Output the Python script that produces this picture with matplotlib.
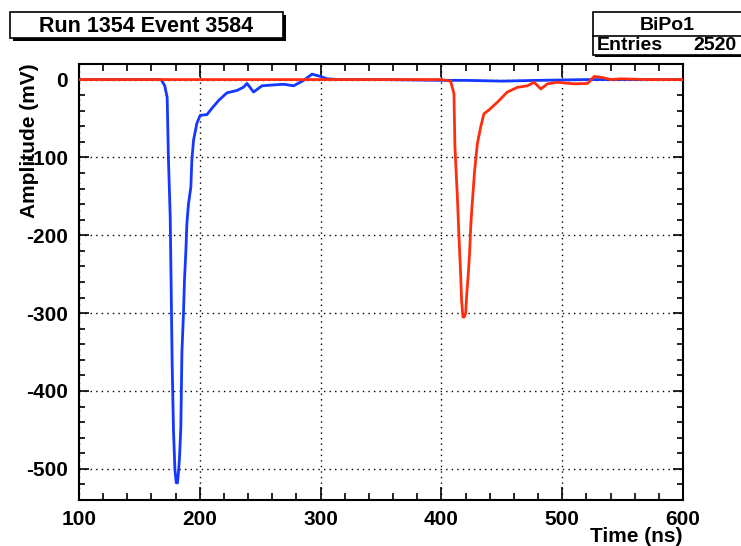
import numpy as np
import matplotlib
matplotlib.use("Agg")
import matplotlib.pyplot as plt
from matplotlib.patches import Rectangle
from matplotlib.ticker import MultipleLocator

# waveform samples (time in ns, amplitude in mV)
blue_t = [100, 120, 140, 160, 168, 171, 173, 174, 175.5, 176.3, 177.1, 178.2, 179.4, 180.5,
          181.5, 182.3, 183.2, 184.3, 185.2, 186.5, 187.3, 188.5, 189.3, 190.6, 192.6, 193.4,
          194.8, 197.6, 200.3, 205.9, 210.0, 215.5, 222.5, 230.8, 236.0, 239.1, 244.5, 251.5,
          260, 269.4, 277.7, 286.0, 292.9, 299.8, 305.4, 315, 350, 400, 420, 450, 480, 520,
          560, 600]
blue_v = [0, 0, 0, 0, 0, -8, -23, -100, -176, -268, -364, -450, -501, -518,
          -518, -505, -486, -447, -350, -300, -258, -219, -185, -160, -138, -104,
          -78, -56, -46, -45, -37, -27, -17, -14, -10, -5, -16, -8,
          -7, -6, -8, -1, 7, 4, 1, 0, 0, -1, -1, -2, -1, 0,
          0, 0]

red_t = [100, 150, 200, 250, 300, 350, 400, 407.6, 410.4, 411.2, 413.2, 414.5, 415.9, 416.7,
         417.8, 418.8, 420.1, 420.9, 422.3, 423.4, 424.2, 425.3, 426.4, 427.5, 429.8, 432.5,
         435.2, 439.4, 446.4, 454.6, 462.9, 471.2, 476.7, 482.3, 487.8, 496.1, 509.9, 521.0,
         526.5, 532.0, 540.3, 548.6, 570, 600]
red_v = [0, 0, 0, 0, 0, 0, 0, -2, -18, -87, -150, -200, -249, -283,
         -305, -305, -300, -277, -249, -221, -191, -164, -140, -117, -82, -61,
         -44, -39, -29, -16, -10, -8, -3.5, -12, -5.5, -3.5, -5.5, -5,
         4, 3, 0, 1, 0, 0]

title_text = "Run 1354 Event 3584"
stats_name = "BiPo1"
stats_entries = 2520

W, H = 741, 546
plt.rcParams['font.family'] = ['Liberation Sans', 'DejaVu Sans']
plt.rcParams['font.weight'] = 'bold'
plt.rcParams['axes.unicode_minus'] = False

fig = plt.figure(figsize=(W / 100, H / 100), dpi=100)
fig.patch.set_facecolor('white')

# frame from x=79..683 px, y=64..500 px
ax = fig.add_axes([79 / W, 1 - 500 / H, (683 - 79) / W, (500 - 64) / H])

ax.plot(blue_t, blue_v, color='#1438ff', lw=2.0, zorder=3)
ax.plot(red_t, red_v, color='#ff2d0f', lw=2.0, zorder=3)

ax.set_xlim(100, 600)
ax.set_ylim(-540, 20)
ax.xaxis.set_major_locator(MultipleLocator(100))
ax.xaxis.set_minor_locator(MultipleLocator(20))
ax.yaxis.set_major_locator(MultipleLocator(100))
ax.yaxis.set_minor_locator(MultipleLocator(20))

ax.grid(True, which='major', color='black', linestyle=(0, (1, 3)), lw=1.0)
ax.tick_params(axis='both', which='both', direction='in', top=True, right=True,
               labelsize=15, width=1.2)
ax.tick_params(axis='x', which='major', length=9.5, pad=7)
ax.tick_params(axis='x', which='minor', length=5)
ax.tick_params(axis='y', which='major', length=7.5, pad=8)
ax.tick_params(axis='y', which='minor', length=4.5)
for lab in ax.get_xticklabels() + ax.get_yticklabels():
    lab.set_fontweight('bold')
for s in ax.spines.values():
    s.set_linewidth(1.5)

# axis titles, ROOT style (right / top aligned)
fig.text(683 / W, 1 - 537 / H, "Time (ns)", ha='right', va='center',
         fontsize=15, fontweight='bold')
fig.text(30 / W, 1 - 63 / H, "Amplitude (mV)", rotation=90, ha='center', va='top',
         fontsize=15, fontweight='bold')

# title box with shadow
tx0, tx1, ty0, ty1 = 10, 283, 11.7, 38.3
fig.patches.append(Rectangle(((tx0 + 3) / W, 1 - (ty1 + 3) / H), (tx1 - tx0) / W, (ty1 - ty0) / H,
                             transform=fig.transFigure, facecolor='black', edgecolor='none'))
fig.patches.append(Rectangle((tx0 / W, 1 - ty1 / H), (tx1 - tx0) / W, (ty1 - ty0) / H,
                             transform=fig.transFigure, facecolor='white', edgecolor='black', lw=1.2))
fig.text((tx0 + tx1) / 2 / W, 1 - 26 / H, title_text, ha='center', va='center',
         fontsize=15.5, fontweight='bold')

# stats box (runs off the right edge like the original)
sx0, sx1, sy0, sym, sy1 = 592.7, 770, 11.7, 36, 55
fig.patches.append(Rectangle(((sx0 + 2) / W, 1 - (sy1 + 2) / H), (sx1 - sx0) / W, (sy1 - sy0) / H,
                             transform=fig.transFigure, facecolor='black', edgecolor='none'))
fig.patches.append(Rectangle((sx0 / W, 1 - sy1 / H), (sx1 - sx0) / W, (sy1 - sy0) / H,
                             transform=fig.transFigure, facecolor='white', edgecolor='black', lw=1.2))
fig.add_artist(plt.Line2D([sx0 / W, 1], [1 - sym / H, 1 - sym / H], transform=fig.transFigure,
                          color='black', lw=1.2))
fig.text(667 / W, 1 - 25 / H, stats_name, ha='center', va='center', fontsize=14, fontweight='bold')
fig.text(597 / W, 1 - 46 / H, "Entries", ha='left', va='center', fontsize=14, fontweight='bold')
fig.text(736 / W, 1 - 46 / H, f"{stats_entries}", ha='right', va='center', fontsize=14,
         fontweight='bold')

fig.savefig("out.png", dpi=100)
